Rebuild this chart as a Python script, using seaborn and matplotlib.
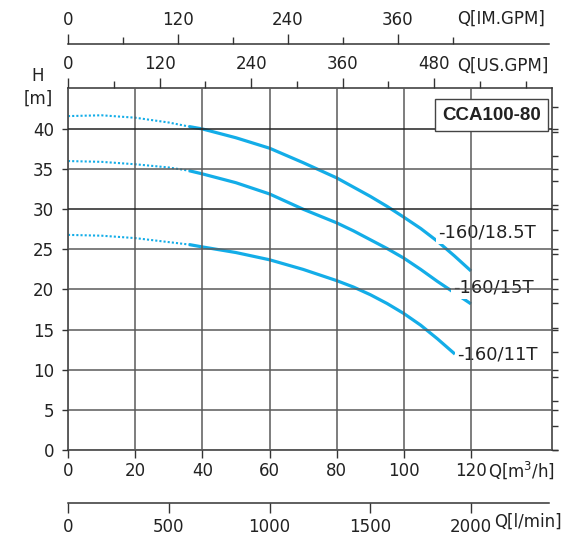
import matplotlib
matplotlib.use("Agg")
import matplotlib.pyplot as plt
import numpy as np
import pandas as pd
import seaborn as sns

# H-Q performance data, CCA100-80 pump, three motor variants
flow_a = [0, 10, 20, 30, 36, 40, 50, 60, 70, 80, 85, 90, 95, 100, 105, 110, 115, 120]
head_185 = [41.6, 41.7, 41.4, 40.8, 40.3, 40.0, 38.9, 37.6, 35.8, 33.9, 32.75, 31.6, 30.35,
            29.0, 27.6, 26.0, 24.2, 22.3]
head_15 = [36.0, 35.9, 35.6, 35.2, 34.8, 34.4, 33.3, 31.9, 30.0, 28.3, 27.3, 26.2, 25.1,
           23.9, 22.5, 21.0, 19.6, 18.2]
flow_b = [0, 10, 20, 30, 36, 40, 50, 60, 70, 80, 85, 90, 95, 100, 105, 110, 115.2]
head_11 = [26.8, 26.7, 26.4, 25.9, 25.6, 25.3, 24.6, 23.7, 22.5, 21.1, 20.3, 19.35, 18.25,
           17.0, 15.55, 13.85, 11.95]
curve_names = ["-160/18.5T", "-160/15T", "-160/11T"]
model_name = "CCA100-80"
work_start = 36  # start of the recommended working range (m3/h)

x_ticks = [0, 20, 40, 60, 80, 100, 120]
y_ticks = [0, 5, 10, 15, 20, 25, 30, 35, 40]
usgpm_major = [0, 120, 240, 360, 480]
usgpm_minor = [60, 180, 300, 420, 540, 600]
imgpm_major = [0, 120, 240, 360]
imgpm_minor = [60, 180, 300, 420]
lmin_ticks = [0, 500, 1000, 1500, 2000]

# unit conversions from m3/h
TO_USGPM = 4.4029
TO_IMGPM = 3.6662
TO_LMIN = 16.6667
TO_FT = 3.28084

rows = []
for name, q, h in zip(curve_names, [flow_a, flow_a, flow_b], [head_185, head_15, head_11]):
    for qi, hi in zip(q, h):
        rows.append({"curve": name, "Q": qi, "H": hi})
df = pd.DataFrame(rows)
dotted_part = df[df["Q"] <= work_start]
solid_part = df[df["Q"] >= work_start]

sns.set_style("white")
plt.rcParams["font.family"] = ["DejaVu Sans"]
plt.rcParams["font.size"] = 12

W, H = 563, 537
fig = plt.figure(figsize=(W / 100, H / 100), dpi=100)
ax = fig.add_axes([68 / W, 87 / H, 484 / W, 362 / H])

blue = "#13ADE8"
sns.lineplot(data=dotted_part, x="Q", y="H", units="curve", estimator=None,
             sort=False, color=blue, lw=1.5, linestyle=(0, (1, 1)), ax=ax, zorder=2)
sns.lineplot(data=solid_part, x="Q", y="H", units="curve", estimator=None,
             sort=False, color=blue, lw=2.3, ax=ax, zorder=2,
             solid_capstyle="butt", solid_joinstyle="round")

ax.set_xlim(0, 144.1)
ax.set_ylim(0, 45.1)
ax.set_xticks(x_ticks)
ax.set_yticks(y_ticks)
ax.set_xlabel("")
ax.set_ylabel("")

# grid drawn over the curves
ax.set_axisbelow(False)
ax.grid(True, color="#5a5a5a", lw=1.1)
for val, gl in zip(y_ticks, ax.get_ygridlines()):
    if val in (30, 40):
        gl.set_color("#222222")

for s in ax.spines.values():
    s.set_color("#333333")
    s.set_linewidth(1.1)

ax.tick_params(axis="y", which="both", direction="out", length=4, width=1,
               color="#333333", left=True, right=True, labelright=False,
               pad=6, labelsize=12, labelcolor="#222222")
ax.tick_params(axis="x", direction="out", length=6, width=1, color="#333333",
               bottom=True, top=False, pad=3, labelsize=12, labelcolor="#222222")

# feet ticks on the right spine
ax_ft = ax.secondary_yaxis("right", functions=(lambda m: m * TO_FT, lambda f: f / TO_FT))
ax_ft.set_yticks(np.arange(0, 150, 10))
ax_ft.set_yticklabels([])
ax_ft.tick_params(direction="out", length=4, width=1, color="#333333")
ax_ft.spines["right"].set_visible(False)

# US gallons per minute along the top edge
ax_us = ax.secondary_xaxis("top", functions=(lambda q: q * TO_USGPM, lambda g: g / TO_USGPM))
ax_us.set_xticks(usgpm_major)
ax_us.set_xticks(usgpm_minor, minor=True)
ax_us.tick_params(which="major", direction="out", length=7, width=1, color="#333333",
                  pad=4, labelsize=12, labelcolor="#222222")
ax_us.tick_params(which="minor", direction="out", length=5, width=1, color="#333333")
ax_us.spines["top"].set_visible(False)

# Imperial gallons per minute, separate scale above
ax_im = ax.secondary_xaxis(1 + 44 / 362, functions=(lambda q: q * TO_IMGPM, lambda g: g / TO_IMGPM))
ax_im.set_xticks(imgpm_major)
ax_im.set_xticks(imgpm_minor, minor=True)
ax_im.tick_params(which="major", direction="out", length=7, width=1, color="#333333",
                  pad=4, labelsize=12, labelcolor="#222222")
ax_im.tick_params(which="minor", direction="out", length=5, width=1, color="#333333")
ax_im.spines["top"].set_color("#333333")
ax_im.spines["top"].set_linewidth(1.1)
ax_im.spines["top"].set_bounds(0, 143.2 * TO_IMGPM)

# litres per minute, separate scale below
ax_l = ax.secondary_xaxis(-53 / 362, functions=(lambda q: q * TO_LMIN, lambda v: v / TO_LMIN))
ax_l.set_xticks(lmin_ticks)
ax_l.tick_params(direction="out", length=7, width=1, color="#333333",
                 pad=4, labelsize=12, labelcolor="#222222")
ax_l.spines["bottom"].set_color("#333333")
ax_l.spines["bottom"].set_linewidth(1.1)
ax_l.spines["bottom"].set_bounds(0, 143.2 * TO_LMIN)


def px(x, y):
    return x / W, 1 - y / H


txt = dict(fontsize=12, color="#222222")
fig.text(*px(457, 19), "Q[IM.GPM]", ha="left", va="center", **txt)
fig.text(*px(457, 66), "Q[US.GPM]", ha="left", va="center", **txt)
fig.text(*px(488, 470), "Q[m$^{3}$/h]", ha="left", va="center", **txt)
fig.text(*px(494, 522), "Q[l/min]", ha="left", va="center", **txt)
fig.text(*px(38, 76), "H", ha="center", va="center", **txt)
fig.text(*px(38, 99), "[m]", ha="center", va="center", **txt)

# curve labels; a thin white backing breaks the curve where the text starts
label_pos = [(110.3, 27.1), (114.7, 20.2), (115.9, 11.95)]
for name, (lx, ly) in zip(curve_names, label_pos):
    ax.text(lx, ly, name, ha="left", va="center", fontsize=13, color="#222222",
            zorder=2.2, bbox=dict(boxstyle="square,pad=0.12", fc="white", ec="none"))

ax.text(126.1, 41.68, model_name, ha="center", va="center", fontsize=13.5,
        fontweight="bold", family="Liberation Sans", color="#222222", zorder=5,
        bbox=dict(boxstyle="square,pad=0.4", fc="white", ec="#444444", lw=1))

fig.savefig("out.png", dpi=100)
